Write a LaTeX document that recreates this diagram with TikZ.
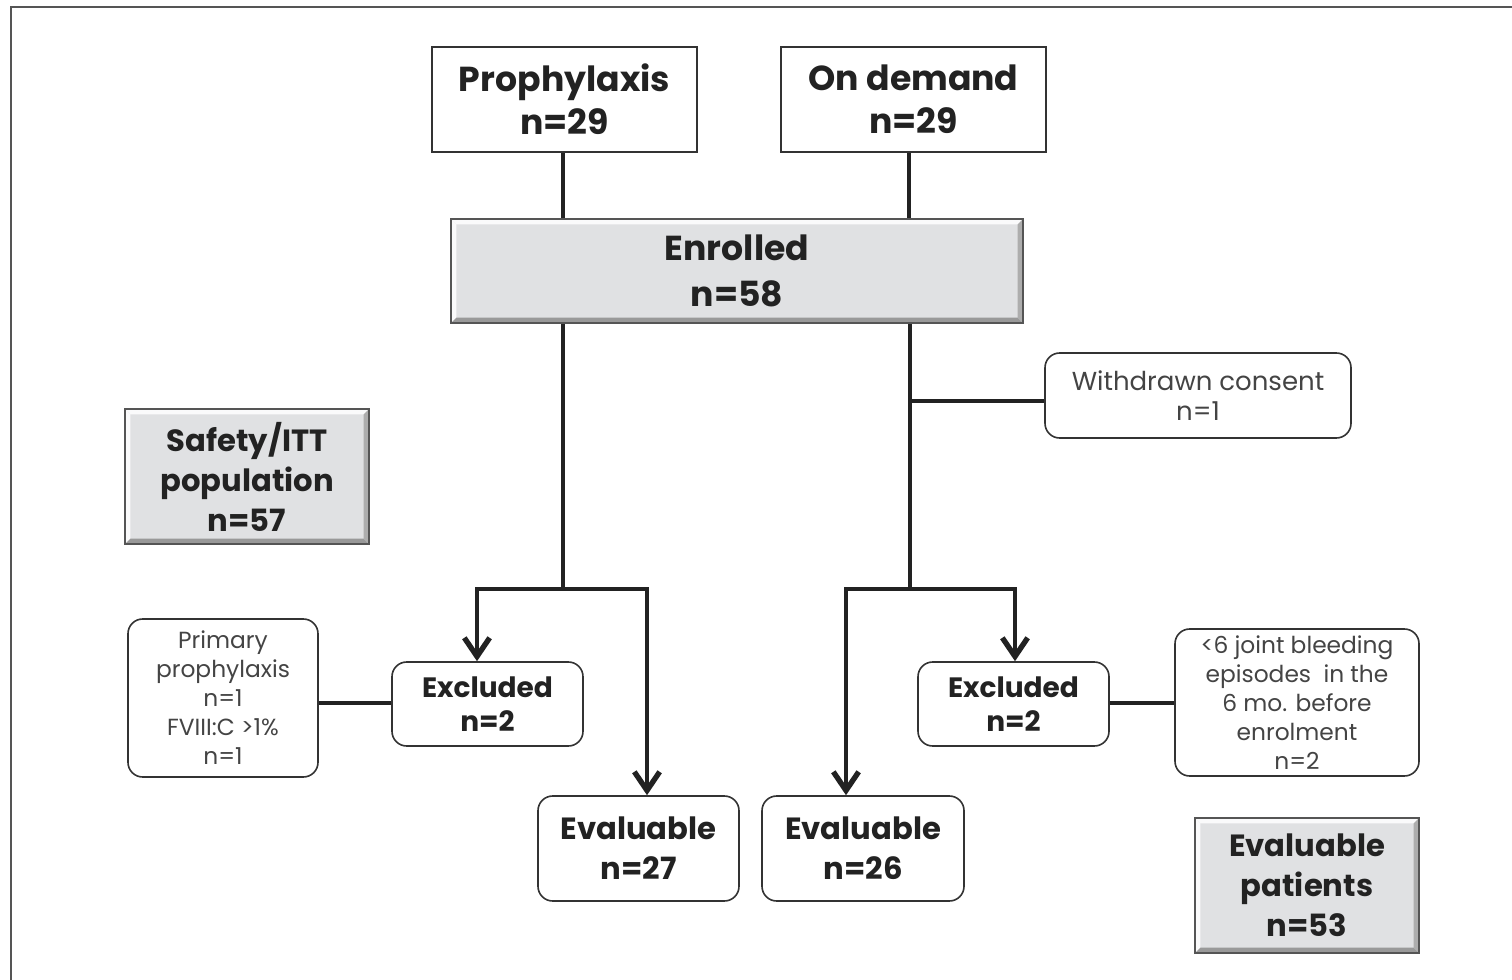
\documentclass[tikz,border=0pt]{standalone}
\usepackage{fontspec}
\setmainfont{Poppins}
\usetikzlibrary{arrows.meta,calc}
\definecolor{ink}{HTML}{222222}
\definecolor{boxline}{HTML}{333333}
\definecolor{softtext}{HTML}{444444}
\definecolor{grayfill}{HTML}{E0E1E3}
\definecolor{framegray}{HTML}{555555}
\tikzset{
  plainbox/.style={draw=boxline, line width=1.2pt, fill=white, inner sep=0pt, align=center, text=ink},
  roundbox/.style={plainbox, rounded corners=11pt},
  bevelbox/.style={draw=framegray, line width=1.3pt, fill=grayfill, inner sep=0pt, align=center, text=ink,
    path picture={
      \fill[white!85!grayfill] (path picture bounding box.north west) -- (path picture bounding box.north east)
        -- ($(path picture bounding box.north east)+(-4pt,-4pt)$) -- ($(path picture bounding box.north west)+(4pt,-4pt)$) -- cycle;
      \fill[white!85!grayfill] (path picture bounding box.north west) -- (path picture bounding box.south west)
        -- ($(path picture bounding box.south west)+(4pt,4pt)$) -- ($(path picture bounding box.north west)+(4pt,-4pt)$) -- cycle;
      \fill[black!40] (path picture bounding box.south west) -- (path picture bounding box.south east)
        -- ($(path picture bounding box.south east)+(-4pt,4pt)$) -- ($(path picture bounding box.south west)+(4pt,4pt)$) -- cycle;
      \fill[black!32] (path picture bounding box.north east) -- (path picture bounding box.south east)
        -- ($(path picture bounding box.south east)+(-4pt,4pt)$) -- ($(path picture bounding box.north east)+(-4pt,-4pt)$) -- cycle;
    }},
  bigfont/.style={font=\fontsize{26}{32.5}\selectfont\bfseries},
  midfont/.style={font=\fontsize{23}{30}\selectfont\bfseries},
  exfont/.style={font=\fontsize{21}{25.5}\selectfont\bfseries},
  smallfont/.style={font=\fontsize{17.5}{21.75}\selectfont, text=softtext},
  wdfont/.style={font=\fontsize{19.5}{23}\selectfont, text=softtext},
  conn/.style={draw=ink, line width=3pt},
  arr2/.style={conn, {Straight Barb[length=14pt,width=19pt,line width=1pt 1]}-{Straight Barb[length=14pt,width=19pt,line width=1pt 1]}},
}
\begin{document}
\begin{tikzpicture}[x=0.75pt,y=-0.75pt]
\useasboundingbox (0,0) rectangle (1512,980);
\fill[white] (0,0) rectangle (1512,980);
% outer frame (cut off at right and bottom)
\draw[framegray, line width=1.5pt] (11,980) -- (11,7) -- (1512,7);

% nodes
\node[plainbox, bigfont, minimum width=198.75pt, minimum height=78.75pt] (pro) at (564.5,99.5) {Prophylaxis\\n=29};
\node[plainbox, bigfont, minimum width=198.75pt, minimum height=78.75pt] (od) at (913.5,99.5) {On demand\\n=29};
\node[bevelbox, font=\fontsize{26}{34}\selectfont\bfseries, minimum width=429pt, minimum height=78pt] (enr) at (737,271) {Enrolled\\n=58};
\node[roundbox, wdfont, minimum width=229.5pt, minimum height=63.75pt] (wd) at (1198,395.5) {Withdrawn consent\\n=1};
\node[bevelbox, midfont, minimum width=183pt, minimum height=101.25pt] (saf) at (247,476.5) {Safety/ITT\\population\\n=57};
\node[roundbox, smallfont, minimum width=142.5pt, minimum height=118.5pt] (prim) at (223,698) {Primary\\prophylaxis\\n=1\\FVIII:C >1\%\\n=1};
\node[roundbox, exfont, minimum width=143.25pt, minimum height=63pt] (exL) at (487.5,704) {Excluded\\n=2};
\node[roundbox, exfont, minimum width=143.25pt, minimum height=63pt] (exR) at (1013.5,704) {Excluded\\n=2};
\node[roundbox, smallfont, minimum width=183pt, minimum height=110.25pt] (six) at (1297,702.5) {<6 joint bleeding\\episodes\ \ in the\\6 mo. before\\enrolment\\n=2};
\node[roundbox, midfont, minimum width=150.75pt, minimum height=78.75pt] (ev27) at (638.5,848.5) {Evaluable\\n=27};
\node[roundbox, midfont, minimum width=151.5pt, minimum height=78.75pt] (ev26) at (863,848.5) {Evaluable\\n=26};
\node[bevelbox, midfont, minimum width=168pt, minimum height=101.25pt] (evp) at (1307,885.5) {Evaluable\\patients\\n=53};

% branch coordinates
\coordinate (lt) at (563,0);
\coordinate (rt) at (909,0);
\coordinate (lsplit) at (563,589);
\coordinate (la) at (477,589);
\coordinate (lb) at (647,589);
\coordinate (rsplit) at (910,589);
\coordinate (ra) at (846,589);
\coordinate (rb) at (1015,589);
\coordinate (wdj) at (910,401);

% connectors
\draw[conn] (pro.south -| lt) -- (enr.north -| lt);
\draw[conn] (od.south -| rt) -- (enr.north -| rt);
\draw[conn] (enr.south -| lsplit) -- (lsplit);
\draw[arr2] (la |- exL.north) -- (la) -- (lb) -- (lb |- ev27.north);
\draw[conn] (enr.south -| rsplit) -- (rsplit);
\draw[conn] (wdj) -- (wd.west |- wdj);
\draw[arr2] (ra |- ev26.north) -- (ra) -- (rb) -- (rb |- exR.north);
\draw[conn, line width=2.4pt] (prim.east |- 0,703) -- (exL.west |- 0,703);
\draw[conn, line width=2.4pt] (exR.east |- 0,703) -- (six.west |- 0,703);
\end{tikzpicture}
\end{document}
